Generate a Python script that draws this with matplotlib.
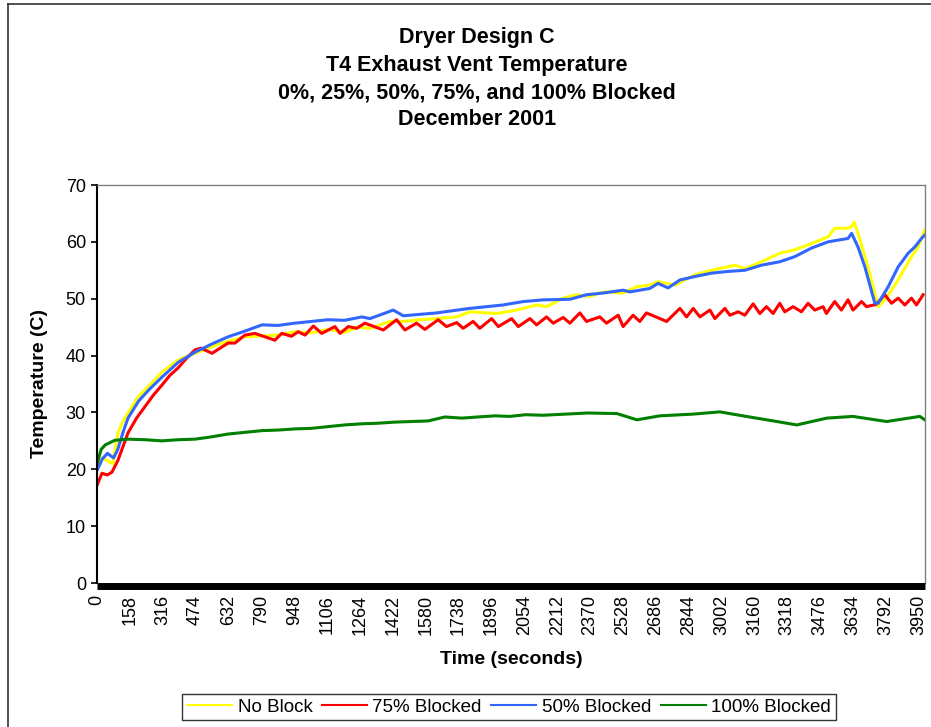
import matplotlib

matplotlib.use("Agg")
import matplotlib.pyplot as plt
from matplotlib.lines import Line2D

plt.rcParams["font.family"] = ["Liberation Sans", "DejaVu Sans"]

# Values (seconds, deg C)
no_block_t = [0, 25, 50, 75, 101, 125, 149, 197, 245, 312, 389, 471, 550, 600, 711,
              870, 950, 1033, 1110, 1192, 1250, 1312, 1408, 1472, 1552, 1632, 1729,
              1792, 1921, 2017, 2113, 2161, 2241, 2305, 2369, 2433, 2529, 2593, 2657,
              2697, 2778, 2874, 2954, 3066, 3114, 3194, 3282, 3354, 3434, 3514, 3546,
              3610, 3627, 3639, 3658, 3706, 3755, 3787, 3851, 3915, 3947, 3979]
no_block_v = [20.5, 22.0, 21.5, 21.0, 26.4, 28.5, 29.9, 32.7, 34.5, 37.1, 39.2, 40.4,
              41.5, 42.2, 43.3, 43.6, 44.2, 44.0, 44.6, 44.1, 45.0, 44.8, 46.0, 46.0,
              46.3, 46.5, 46.8, 47.7, 47.4, 48.0, 48.9, 48.6, 50.1, 50.7, 50.4, 51.2,
              51.0, 52.1, 52.4, 53.0, 52.4, 54.2, 55.0, 55.9, 55.3, 56.5, 58.0, 58.6,
              59.7, 60.9, 62.4, 62.4, 62.7, 63.5, 61.5, 55.6, 48.6, 49.8, 53.3, 57.4,
              59.1, 62.1]

b75_t = [0, 24, 50, 72, 101, 149, 190, 230, 270, 312, 350, 389, 430, 471, 500, 553,
         600, 630, 663, 711, 759, 855, 888, 935, 967, 1000, 1040, 1080, 1144, 1168,
         1208, 1248, 1288, 1376, 1440, 1480, 1536, 1576, 1640, 1680, 1729, 1760, 1808,
         1840, 1897, 1929, 1993, 2025, 2081, 2113, 2161, 2193, 2241, 2273, 2321, 2353,
         2417, 2449, 2505, 2529, 2577, 2609, 2641, 2738, 2802, 2834, 2866, 2898, 2946,
         2970, 3018, 3042, 3082, 3114, 3154, 3186, 3218, 3250, 3282, 3306, 3346, 3386,
         3418, 3450, 3490, 3506, 3546, 3578, 3610, 3634, 3675, 3699, 3745, 3787, 3819,
         3851, 3883, 3915, 3939, 3971]
b75_v = [17.2, 19.3, 19.0, 19.5, 21.6, 26.4, 29.0, 31.0, 33.0, 34.8, 36.5, 37.8, 39.5,
         41.0, 41.3, 40.4, 41.5, 42.2, 42.2, 43.6, 43.9, 42.7, 43.9, 43.4, 44.2, 43.6,
         45.2, 43.9, 45.1, 43.9, 45.1, 44.8, 45.7, 44.5, 46.3, 44.5, 45.7, 44.6, 46.3,
         45.1, 45.8, 44.8, 46.0, 44.8, 46.5, 45.1, 46.5, 45.1, 46.5, 45.4, 46.8, 45.7,
         46.7, 45.7, 47.5, 46.0, 46.8, 45.7, 47.1, 45.1, 47.1, 46.0, 47.5, 46.0, 48.3,
         46.8, 48.3, 46.8, 48.0, 46.5, 48.3, 47.1, 47.7, 47.1, 49.1, 47.4, 48.6, 47.4,
         49.2, 47.7, 48.6, 47.7, 49.2, 48.0, 48.6, 47.4, 49.5, 48.0, 49.8, 48.0, 49.5,
         48.6, 49.0, 50.7, 49.2, 50.1, 48.9, 50.1, 48.9, 50.7]

b50_t = [0, 25, 50, 80, 100, 125, 149, 200, 250, 312, 390, 471, 550, 630, 711, 793,
         870, 951, 1030, 1110, 1190, 1273, 1312, 1424, 1472, 1632, 1792, 1952, 2049,
         2145, 2273, 2353, 2433, 2529, 2561, 2657, 2697, 2745, 2802, 2874, 2954, 3034,
         3114, 3194, 3282, 3354, 3434, 3514, 3610, 3627, 3658, 3691, 3739, 3755, 3803,
         3851, 3899, 3931, 3963, 3979]
b50_v = [19.8, 21.8, 22.8, 22.0, 23.5, 26.5, 29.0, 32.0, 34.0, 36.2, 38.8, 40.6, 42.0,
         43.3, 44.3, 45.4, 45.3, 45.7, 46.0, 46.3, 46.2, 46.8, 46.5, 48.0, 47.0, 47.5,
         48.3, 48.9, 49.5, 49.8, 49.9, 50.7, 51.0, 51.5, 51.2, 51.8, 52.7, 51.9, 53.3,
         53.9, 54.5, 54.8, 55.0, 55.9, 56.5, 57.4, 58.9, 60.0, 60.6, 61.5, 59.1, 55.6,
         49.2, 49.2, 52.1, 55.6, 58.0, 59.1, 60.6, 61.2]

b100_t = [0, 20, 40, 86, 150, 230, 312, 390, 471, 550, 630, 711, 793, 870, 951, 1030,
          1110, 1190, 1273, 1350, 1432, 1510, 1591, 1672, 1754, 1830, 1913, 1985, 2060,
          2143, 2250, 2359, 2499, 2595, 2705, 2864, 2994, 3104, 3268, 3364, 3508, 3633,
          3796, 3955, 3979]
b100_v = [21.0, 23.5, 24.3, 25.1, 25.3, 25.2, 25.0, 25.2, 25.3, 25.7, 26.2, 26.5, 26.8,
          26.9, 27.1, 27.2, 27.5, 27.8, 28.0, 28.1, 28.3, 28.4, 28.5, 29.2, 29.0, 29.2,
          29.4, 29.3, 29.6, 29.5, 29.7, 29.9, 29.8, 28.7, 29.4, 29.7, 30.1, 29.4, 28.4,
          27.8, 29.0, 29.3, 28.4, 29.3, 28.7]

x_ticks = list(range(0, 3951, 158))
y_ticks = [0, 10, 20, 30, 40, 50, 60, 70]
series_labels = ["No Block", "75% Blocked", "50% Blocked", "100% Blocked"]
title_lines = ["Dryer Design C", "T4 Exhaust Vent Temperature",
               "0%, 25%, 50%, 75%, and 100% Blocked", "December 2001"]

W, H = 931, 727
fig = plt.figure(figsize=(W / 100, H / 100), dpi=100)


def fx(px):
    return px / W


def fy(py):
    return 1 - py / H


ax = fig.add_axes([fx(97), fy(583), fx(925) - fx(97), fy(185) - fy(583)])

colors = ["#ffff00", "#ff0000", "#3366ff", "#008000"]
data = [(no_block_t, no_block_v), (b75_t, b75_v), (b50_t, b50_v), (b100_t, b100_v)]
for (t, v), c, lab in zip(data, colors, series_labels):
    ax.plot(t, v, color=c, lw=2.2, label=lab)

ax.set_xlim(0, 3980)
ax.set_ylim(0, 70)
ax.set_xticks(x_ticks)
ax.set_xticklabels([str(x) for x in x_ticks])
ax.set_yticks(y_ticks)
ax.set_yticklabels([str(y) for y in y_ticks])
ax.tick_params(axis="x", length=0, pad=7, labelsize=13, labelrotation=90)
ax.tick_params(axis="y", length=4, width=1.2, pad=4, direction="out", labelsize=13)

for s in ("top", "right"):
    ax.spines[s].set_color("#808080")
    ax.spines[s].set_linewidth(1.0)
ax.spines["left"].set_color("#000000")
ax.spines["left"].set_linewidth(1.5)
ax.spines["bottom"].set_color("#000000")
ax.spines["bottom"].set_linewidth(5)
ax.spines["bottom"].set_capstyle("butt")
ax.spines["bottom"].set_position(("outward", 1.8))

ax.set_xlabel("Time (seconds)", fontsize=14, fontweight="bold", labelpad=8)
ax.xaxis.set_label_coords(0.5, 0, transform=ax.transAxes)
fig.text(fx(40), fy(384), "Temperature (C)", rotation=90, ha="center", va="center",
         fontsize=14, fontweight="bold")
ax.xaxis.label.set_visible(False)
fig.text(fx(511), fy(660), "Time (seconds)", ha="center", va="center",
         fontsize=14, fontweight="bold")

for i, line in enumerate(title_lines):
    fig.text(fx(477), fy(38 + i * 27.3), line, ha="center", va="center",
             fontsize=15.5, fontweight="bold")

# chart area border (runs off the right and bottom edges)
fig.add_artist(Line2D([fx(7.5), fx(7.5)], [fy(3.5), 0], transform=fig.transFigure,
                      color="#333333", lw=1.2))
fig.add_artist(Line2D([fx(7.5), 1], [fy(3.5), fy(3.5)], transform=fig.transFigure,
                      color="#333333", lw=1.2))

leg = fig.legend(loc="center", ncol=4, bbox_to_anchor=(fx(509), fy(707)),
                 fontsize=13.5, frameon=True, fancybox=False, edgecolor="#000000",
                 handlelength=2.4, handletextpad=0.3, columnspacing=0.5,
                 borderpad=0.25, borderaxespad=0)
leg.get_frame().set_linewidth(1.0)
for h in leg.get_lines():
    h.set_linewidth(1.5)

fig.savefig("out.png", dpi=100)
